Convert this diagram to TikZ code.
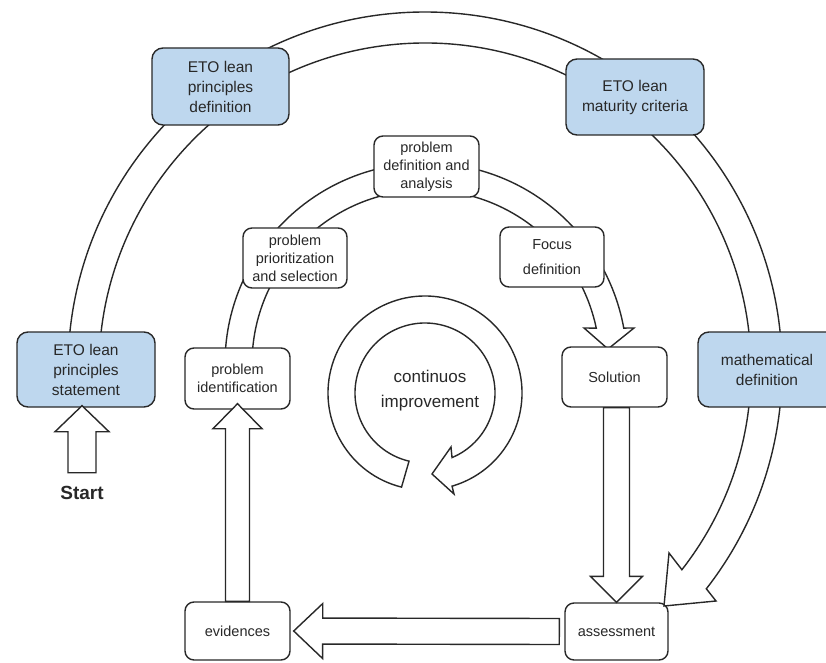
\documentclass[tikz,border=0pt]{standalone}
\usepackage{fontspec}
\setmainfont{Liberation Sans}
\usetikzlibrary{calc}

\definecolor{boxblue}{RGB}{190,215,238}
\definecolor{ink}{RGB}{40,40,40}

\tikzset{
  band/.style={draw=ink, line width=1.4pt, fill=white, line join=miter},
  bluebox/.style={draw=ink, line width=1.4pt, fill=boxblue, rounded corners=11pt,
    align=center, inner sep=0pt, text=ink, font=\fontsize{15.5}{20}\selectfont},
  stepbox/.style={draw=ink, line width=1.4pt, fill=white, rounded corners=9pt,
    align=center, inner sep=0pt, text=ink, font=\fontsize{14.5}{18}\selectfont},
}

% block arrow: tail, tip, shaft half width, head half width, head length
\newcommand\fatarrow[5]{%
  \coordinate (fa-t) at (#1);
  \coordinate (fa-h) at (#2);
  \coordinate (fa-b) at ($(fa-h)!#5!(fa-t)$);
  \draw[band] ($(fa-t)!#3!90:(fa-h)$) -- ($(fa-b)!#3!-90:(fa-t)$)
    -- ($(fa-b)!#4!-90:(fa-t)$) -- (fa-h) -- ($(fa-b)!#4!90:(fa-t)$)
    -- ($(fa-b)!#3!90:(fa-t)$) -- ($(fa-t)!#3!-90:(fa-h)$) -- cycle;
}

\begin{document}
\begin{tikzpicture}[x=1pt,y=1pt]
\useasboundingbox (0,0) rectangle (826,662);

% centres of the three rings
\coordinate (ring) at (425,293);
\coordinate (loop) at (426,298);
\coordinate (kaizen) at (425,269);

% boxes at the foot of the improvement loop
\node[stepbox, minimum width=105pt, minimum height=58pt] (evid) at (237.5,31) {evidences};
\node[stepbox, minimum width=103pt, minimum height=57pt] (assess) at (616.5,30.5) {assessment};

% outer ring: statement -> definition -> criteria -> mathematical -> assessment
\coordinate (ring-win) at (669,109);
\coordinate (ring-tip) at (664,56);
\coordinate (ring-wout) at (716,61);
\draw[band] ($(ring)+(180:357)$) arc[start angle=180,end angle=-38,radius=357]
  -- (ring-wout) -- (ring-tip) -- (ring-win)
  -- ($(ring)+(-38:326)$) arc[start angle=-38,end angle=180,radius=326] -- cycle;

% improvement loop: identification -> ... -> solution
\coordinate (loop-win) at (584,334);
\coordinate (loop-tip) at (608,313);
\coordinate (loop-wout) at (634,334);
\draw[band] ($(loop)+(182:201)$) arc[start angle=182,end angle=10.3,radius=201]
  -- (loop-wout) -- (loop-tip) -- (loop-win)
  -- ($(loop)+(11.9:174)$) arc[start angle=11.9,end angle=182,radius=174] -- cycle;

% circular arrow in the middle
\coordinate (kz-wout) at (454,168);
\coordinate (kz-tip) at (432,188);
\coordinate (kz-win) at (451,215);
\draw[band] ($(kaizen)+(256:97)$) arc[start angle=256,end angle=-73.8,radius=97]
  -- (kz-wout) -- (kz-tip) -- (kz-win)
  -- ($(kaizen)+(-67.3:70)$) arc[start angle=-67.3,end angle=256.8,radius=70] -- cycle;
\node[text=ink, align=center, font=\fontsize{17}{24.5}\selectfont] (ci) at (430,271.5)
  {continuos\\improvement};

% framework boxes
\node[bluebox, minimum width=137pt, minimum height=77pt] (def) at (220.5,575.5)
  {ETO lean\\principles\\definition};
\node[bluebox, minimum width=138pt, minimum height=76pt] (crit) at (635,565)
  {ETO lean\\maturity criteria};
\node[bluebox, minimum width=138pt, minimum height=75pt] (stmt) at (86,292.5)
  {ETO lean\\principles\\statement};
\node[bluebox, minimum width=142pt, minimum height=75pt] (math) at (769,292.5)
  {\hspace*{-4pt}mathematical\\\hspace*{-4pt}definition};

% loop steps
\node[stepbox, minimum width=105pt, minimum height=61pt] (probdef) at (426.5,495.5)
  {problem\\definition and\\analysis};
\node[stepbox, minimum width=104pt, minimum height=60pt] (prior) at (295,404)
  {problem\\prioritization\\and selection};
\node[stepbox, minimum width=104pt, minimum height=60pt,
  font=\fontsize{14.5}{25}\selectfont] (focus) at (552,405) {Focus\\definition};
\node[stepbox, minimum width=105pt, minimum height=61pt] (probid) at (237.5,283.5)
  {problem\\identification};
\node[stepbox, minimum width=105pt, minimum height=60pt] (sol) at (614.5,285) {Solution};

% straight block arrows
\fatarrow{sol.south -| assess.north}{assess.north}{13pt}{26pt}{26pt}
\fatarrow{$(assess.west)+(-5,0)$}{$(evid.east)+(3,0)$}{13pt}{27.5pt}{29pt}
\fatarrow{evid.north}{$(probid.south)+(0,6)$}{12pt}{24.5pt}{25pt}

% entry point
\coordinate (start-tail) at ($(stmt.south)+(-4,-65)$);
\coordinate (start-tip) at ($(stmt.south)+(-4,2)$);
\fatarrow{start-tail}{start-tip}{14pt}{27pt}{26pt}
\node[text=ink, font=\fontsize{19}{22}\selectfont\bfseries] (start) at ($(start-tail)+(0,-20)$) {Start};
\end{tikzpicture}
\end{document}
